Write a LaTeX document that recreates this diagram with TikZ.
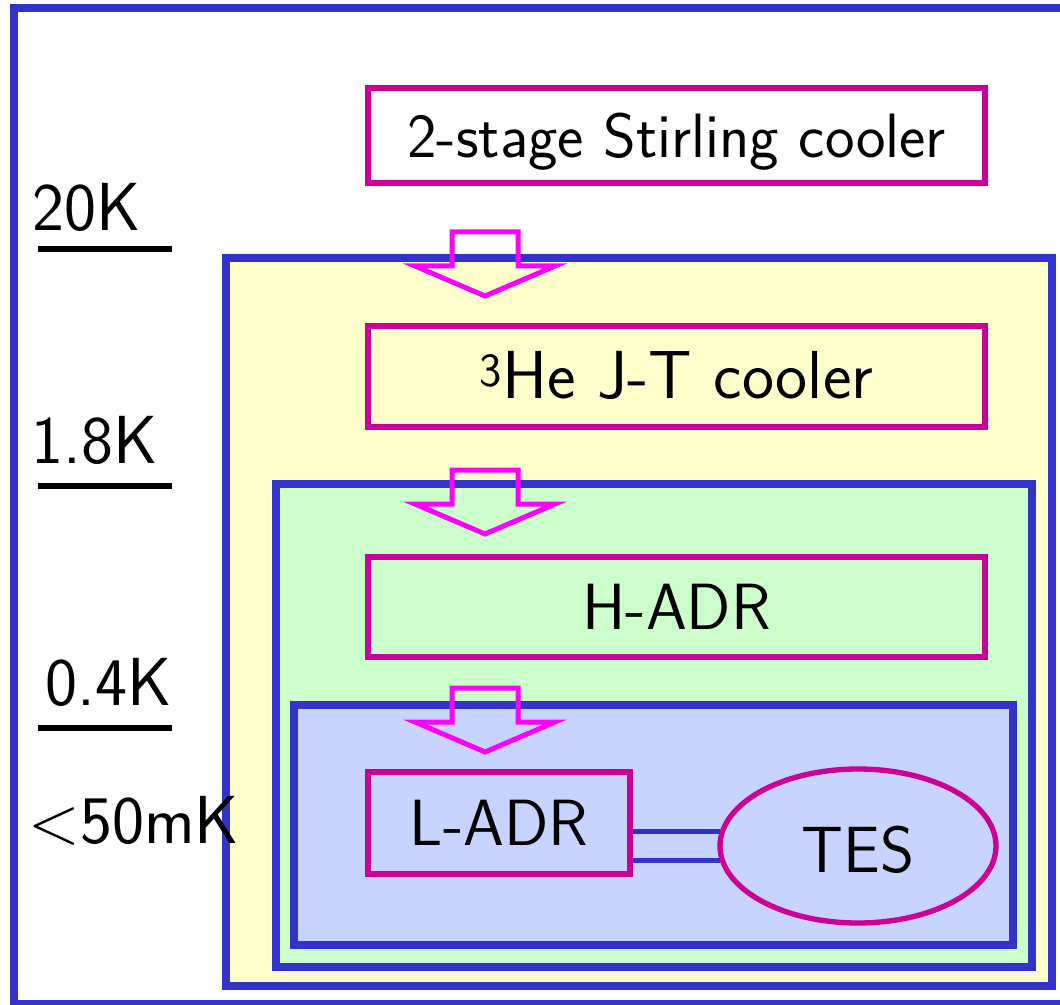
\documentclass[tikz,border=0pt]{standalone}
\usetikzlibrary{positioning,shapes.geometric}

\definecolor{framec}{RGB}{51,51,204}
\definecolor{stagec}{RGB}{204,0,153}
\definecolor{arrowc}{RGB}{255,0,255}
\definecolor{warmc}{RGB}{255,255,204}
\definecolor{midc}{RGB}{204,255,204}
\definecolor{coldc}{RGB}{198,212,255}

\tikzset{every picture/.style={line width=0.75pt}}
\tikzset{
  stageframe/.style={draw=framec, line width=6pt},
  stagebox/.style={draw=stagec, line width=4pt, inner sep=0pt, font=\sffamily\fontsize{49}{57}\selectfont, text height=33pt, text depth=0pt},
  heatflow/.style={draw=arrowc, line width=3.75pt},
  templabel/.style={anchor=base west, inner sep=0pt, font=\sffamily\fontsize{51}{59}\selectfont},
  templine/.style={draw=black, line width=4.5pt},
  link/.style={draw=framec, line width=3.75pt}
}

\begin{document}
\begin{tikzpicture}[x=0.75pt,y=0.75pt,yscale=-1,xscale=1]
        \useasboundingbox (0,0) rectangle (1060,1005);

        % temperature stages
        \draw[stageframe] (14,8) rectangle (1070,1004);
        \draw[stageframe, fill=warmc] (226,258) rectangle (1052,986);
        \draw[stageframe, fill=midc] (276,484) rectangle (1032,967);
        \draw[stageframe, fill=coldc] (294,705) rectangle (1013,945);

        % coolers
        \node[stagebox, font=\sffamily\fontsize{47}{55}\selectfont, minimum width=617*0.75pt, minimum height=95*0.75pt] (stirling) at (676.5,135.5) {2-stage Stirling cooler};
        \node[stagebox, font=\sffamily\fontsize{51}{59}\selectfont, minimum width=617*0.75pt, minimum height=101*0.75pt] (jt) at (676.5,376.5) {\textsuperscript{3}He J-T cooler};
        \node[stagebox, minimum width=617*0.75pt, minimum height=100*0.75pt] (hadr) at (676.5,607) {H-ADR};
        \node[stagebox, minimum width=262*0.75pt, minimum height=102*0.75pt] (ladr) at (499,823) {L-ADR};
        \node[stagebox, ellipse, text height=40pt, minimum width=276*0.75pt, minimum height=154*0.75pt] (tes) at (858,846) {TES};

        % links L-ADR -- TES
        \draw[link] (tes.174 -| ladr.east) -- (tes.174);
        \draw[link] (tes.186 -| ladr.east) -- (tes.186);

        % heat flow arrows
        \foreach \t in {232,470,688}
          \draw[heatflow] (452,\t) -- (518,\t) -- (518,\t+34) -- (555,\t+34) -- (485,\t+64) -- (415,\t+34) -- (452,\t+34) -- cycle;

        % temperature levels
        \node[templabel] (k20) at (32,231) {20K};
        \node[templabel] (k18) at (31,463) {1.8K};
        \node[templabel] (k04) at (45,705) {0.4K};
        \node[templabel] (mk50) at (28,843) {\textless50mK};
        \foreach \y in {249,486,728}
          \draw[templine] (38,\y) -- (172,\y);

\end{tikzpicture}
\end{document}
